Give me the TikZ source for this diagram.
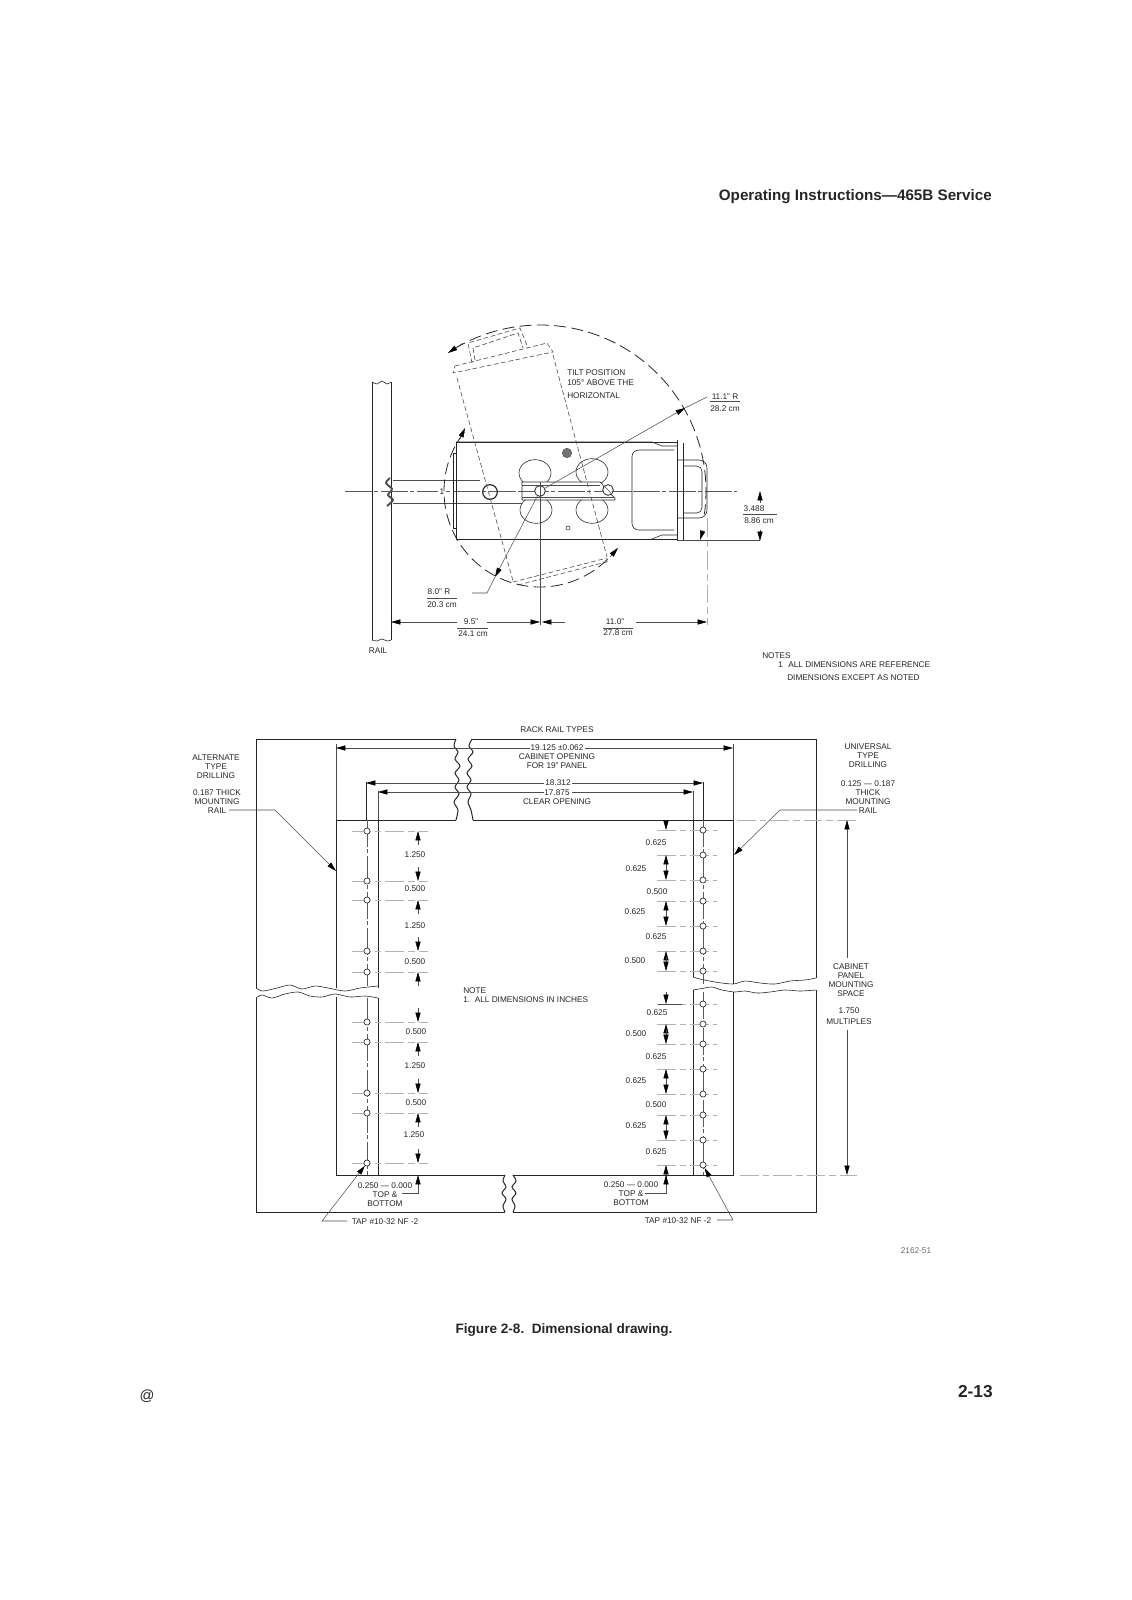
\documentclass[tikz,border=0pt]{standalone}
\usepackage{fontspec}
\setmainfont{Liberation Sans}
\usepackage{tikz}
\usetikzlibrary{arrows.meta}
\usetikzlibrary{shapes.geometric}
\definecolor{ink}{gray}{0.15}
\tikzset{
  outline/.style={line width=0.75pt, draw=ink},
  thinline/.style={line width=0.45pt, draw=ink},
  leader/.style={line width=0.4pt, draw=black!70},
  extline/.style={line width=0.4pt, draw=black!30, dash pattern=on 14pt off 3pt on 5pt off 3pt},
  centreline/.style={line width=0.4pt, draw=black!65, dash pattern=on 20pt off 2pt on 3pt off 2pt},
  tilted/.style={line width=0.5pt, draw=black!65, dash pattern=on 3.5pt off 2pt},
  swing/.style={line width=0.6pt, draw=ink, dash pattern=on 9pt off 4pt},
  dimarrow/.style={line width=0.4pt, draw=black!70, -{Stealth[length=7pt,width=3.8pt,inset=0pt,color=black]}},
  lbl/.style={font=\fontsize{6.2}{6.75}\selectfont, align=center, inner sep=0pt, text=ink},
  lblleft/.style={lbl, anchor=west, align=left},
  hole/.style={circle, draw=ink, line width=0.5pt, fill=white, inner sep=0pt, minimum size=4.6pt},
}
\begin{document}
\begin{tikzpicture}[x=0.75pt,y=-0.75pt]
\useasboundingbox (0,0) rectangle (1132,1600);
% page furniture
\node[anchor=east, inner sep=0pt, text=ink, font=\fontsize{11.4}{12}\selectfont\bfseries] (title) at (992,197) {Operating Instructions---465B Service};
\node[inner sep=0pt, text=ink, font=\fontsize{10.2}{11}\selectfont\bfseries] (caption) at (564,1330) {Figure 2-8.\ \ Dimensional drawing.};
\node[inner sep=0pt, text=ink, font=\fontsize{13}{14}\selectfont\bfseries, anchor=east] (pageno) at (993,1392) {2-13};
\node[inner sep=0pt, text=ink, font=\fontsize{11}{12}\selectfont] (atsign) at (147,1396) {@};
% upper view: rail
\draw[outline] (372,382) -- (372,640);
\draw[outline] (391,382) -- (391,640);
\draw[thinline] plot[smooth] coordinates {(372,382) (377,384) (382,381) (387,384) (391,382)};
\draw[thinline] plot[smooth] coordinates {(372,640) (377,641) (382,639) (387,641) (391,640)};
\draw[line width=1.4pt, draw=black!70] plot[smooth] coordinates {(390,478) (386,483) (392,489) (388,495) (393,500) (387,506)};
\node[lbl] (railname) at (378,651) {RAIL};
% arm and centre line
\draw[leader] (393,480) -- (480,480);
\draw[leader] (393,503) -- (522,503);
\draw[centreline] (345,491) -- (737,491);
\node[lbl, fill=white, inner sep=1pt] (armmark) at (442,492) {1};
\node[circle, draw=ink, line width=0.9pt, inner sep=0pt, minimum size=11pt] (knob) at (490,492) {};
% instrument body
\draw[outline] (456,442) -- (652,442);
\draw[outline] (456,442) -- (456,539) -- (652,539);
\draw[thinline] (456,442) -- (652,442) -- (662,446) -- (677,446);
\draw[thinline] (652,539) -- (662,535) -- (677,535);
\draw[thinline] (652,442) -- (677,442) (652,539) -- (677,539);
\draw[thinline] (677,440) -- (677,540);
\draw[thinline] (683,443) -- (683,540);
\draw[thinline] (456,453) -- (453,453) -- (453,528) -- (456,528);
\draw[thinline, rounded corners=5pt] (674,450) -- (632,450) -- (632,530) -- (674,530);
\draw[thinline, rounded corners=6pt] (677,460) -- (707,460) -- (707,518) -- (677,518);
\draw[thinline, rounded corners=4pt] (683,466) -- (702,466) -- (702,513) -- (683,513);
% cooling openings, bracket and screws
\foreach \cx/\cy [count=\i] in {535/473, 536/510, 592/472, 592/510} {
\node[ellipse, draw=ink, line width=0.45pt, minimum width=24pt, minimum height=20pt, inner sep=0pt, fill=white] (opening\i) at (\cx,\cy) {};
}
\draw[thinline, fill=white] (522,482) -- (600,482) .. controls (604,484) and (603,488) .. (606,490) -- (615,498) -- (615,500) -- (522,500) -- cycle;
\draw[leader] (522,485) -- (600,485);
\draw[leader] (522,497) -- (615,497);
\draw[centreline] (522,491) -- (632,491);
\node[circle, draw=ink, fill=white, line width=0.6pt, inner sep=0pt, minimum size=8pt] (pivot) at (540,491) {};
\node[circle, draw=ink, fill=white, line width=0.6pt, inner sep=0pt, minimum size=8pt] (lockscrew) at (608,490) {};
\draw[leader] (lockscrew.north west) -- (lockscrew.south east);
\node[circle, draw=black!60, fill=black!55, line width=0.6pt, inner sep=0pt, minimum size=7pt] (topscrew) at (567,453) {};
\node[circle, draw=ink, line width=0.4pt, inner sep=0pt, minimum size=3pt] (smallhole) at (568,528) {};
% tilted outline
\draw[tilted] (455,366) -- (547,343) -- (553,352) -- (453,373) -- cycle;
\draw[tilted] (472,363) -- (468,343) -- (520,328) -- (528,348);
\draw[tilted] (475,360) -- (473,348) -- (518,333) -- (523,348);
\draw[tilted] (457,378) -- (513,581);
\draw[tilted] (553,355) -- (607,557);
\draw[tilted] (513,582) -- (607,558);
\draw[tilted] (518,585) -- (610,561);
% swing arcs
\draw[swing] plot[smooth, domain=121:-8, samples=60] ({540+166*cos(\x)},{491-166*sin(\x)});
\draw[swing] plot[smooth, domain=142:323, samples=60] ({540+96*cos(\x)},{491-96*sin(\x)});
\coordinate (bigtail) at (463,343);
\coordinate (bigtip) at (448,353);
\draw[dimarrow] (bigtail) -- (bigtip);
\coordinate (bigtailb) at (703,530);
\coordinate (bigtipb) at (700,540);
\draw[dimarrow] (bigtailb) -- (bigtipb);
\coordinate (smalltail) at (460,439);
\coordinate (smalltip) at (465,428);
\draw[dimarrow] (smalltail) -- (smalltip);
\coordinate (smalltailb) at (610,557);
\coordinate (smalltipb) at (618,548);
\draw[dimarrow] (smalltailb) -- (smalltipb);
% radius leaders
\coordinate (bigr) at (685,408);
\coordinate (bigbend) at (707,397);
\draw[dimarrow] (pivot) -- (bigr);
\draw[leader] (bigr) -- (bigbend);
\coordinate (smallr) at (495,577);
\coordinate (smallbend) at (487,593);
\coordinate (smallend) at (472,593);
\draw[dimarrow] (pivot) -- (smallr);
\draw[leader] (smallr) -- (smallbend) -- (smallend);
\node[lbl] (bigin) at (725,397) {11.1" R};
\draw[leader] (710,401) -- (740,401);
\node[lbl] (bigcm) at (725,409) {28.2 cm};
\node[lbl] (smallin) at (439,592) {8.0" R};
\draw[leader] (427,598) -- (457,598);
\node[lbl] (smallcm) at (442,605) {20.3 cm};
\node[lblleft] (tiltone) at (567,373) {TILT POSITION};
\node[lblleft] (tilttwo) at (567,383) {105° ABOVE THE};
\node[lblleft] (tiltthree) at (567,396) {HORIZONTAL};
% upper view: dimensions
\draw[leader] (540,482) -- (540,625);
\draw[extline] (707,518) -- (707,625);
\draw[dimarrow] (457,622) -- (391,622);
\draw[dimarrow] (487,622) -- (540,622);
\draw[dimarrow] (565,622) -- (542,622);
\draw[dimarrow] (636,622) -- (707,622);
\node[lbl] (leftin) at (471,622) {9.5"};
\draw[leader] (457,628) -- (488,628);
\node[lbl] (leftcm) at (473,634) {24.1 cm};
\node[lbl] (rightin) at (615,622) {11.0"};
\draw[leader] (603,628) -- (633,628);
\node[lbl] (rightcm) at (618,633) {27.8 cm};
\draw[leader] (677,540) -- (760,540);
\draw[dimarrow] (760,503) -- (760,491);
\draw[dimarrow] (760,530) -- (760,541);
\node[lbl] (widein) at (754,509) {3.488};
\draw[leader] (743,514) -- (777,514);
\node[lbl] (widecm) at (759,521) {8.86 cm};
\node[lblleft] (notesa) at (762,656) {NOTES};
\node[lblleft] (notesb) at (778,665) {1};
\node[lblleft] (notesc) at (788,665) {ALL DIMENSIONS ARE REFERENCE};
\node[lblleft] (notesd) at (787,678) {DIMENSIONS EXCEPT AS NOTED};
% lower view: frame
\draw[outline] plot[smooth] coordinates {(456,739) (454,746) (458,752) (455,759) (460,766) (455,773) (459,780) (455,787) (459,794) (454,802) (458,810) (456,820)};
\draw[outline] plot[smooth] coordinates {(472,739) (469,746) (473,752) (468,759) (472,766) (467,773) (471,780) (467,787) (471,794) (468,802) (471,810) (473,820)};
\draw[outline] (456,739) -- (256,739) -- (256,988);
\draw[outline] (472,739) -- (816,739) -- (816,978);
\draw[outline] (336,820) -- (456,820);
\draw[outline] (473,820) -- (733,820);
\draw[outline] (336,820) -- (336,988);
\draw[outline] (378,820) -- (378,988);
\draw[outline] (693,820) -- (693,977);
\draw[outline] (733,820) -- (733,984);
\draw[thinline] plot[smooth] coordinates {(256,988) (263,991) (277,988) (290,985) (302,989) (315,986) (328,988) (345,991) (360,988) (378,986)};
\draw[thinline] plot[smooth] coordinates {(256,998) (262,995) (272,998) (285,994) (298,992) (310,996) (322,997) (335,994) (350,997) (365,996) (378,998)};
\draw[thinline] plot[smooth] coordinates {(693,977) (700,979) (715,982) (733,984) (745,981) (760,983) (775,984) (790,981) (805,980) (816,978)};
\draw[thinline] plot[smooth] coordinates {(693,990) (705,988) (712,987) (722,990) (735,992) (745,991) (757,993) (770,992) (785,990) (800,991) (816,990)};
\draw[outline] (256,998) -- (256,1212) -- (505,1212);
\draw[outline] (816,990) -- (816,1212) -- (513,1212);
\draw[outline] (336,997) -- (336,1175) -- (505,1175);
\draw[outline] (378,998) -- (378,1175);
\draw[outline] (693,990) -- (693,1175);
\draw[outline] (733,992) -- (733,1175) -- (513,1175);
\draw[outline] plot[smooth] coordinates {(505,1175) (503,1181) (506,1187) (502,1193) (506,1199) (503,1206) (505,1212)};
\draw[outline] plot[smooth] coordinates {(513,1175) (516,1181) (512,1187) (516,1193) (512,1199) (515,1206) (513,1212)};
% lower view: centre lines and upper dimensions
\draw[thinline] (366,782) -- (366,820);
\draw[centreline] (367,820) -- (367,986);
\draw[centreline] (367,998) -- (367,1175);
\draw[thinline] (703,782) -- (703,820);
\draw[centreline] (703,820) -- (703,984);
\draw[centreline] (703,992) -- (703,1175);
\draw[leader] (336,744) -- (336,820);
\draw[leader] (733,744) -- (733,820);
\draw[leader] (378,791) -- (378,820);
\draw[leader] (693,791) -- (693,820);
\node[lbl] (racktypes) at (557,730) {RACK RAIL TYPES};
\node[lbl] (cabinet) at (557,757) {19.125 ±0.062\\CABINET OPENING\\FOR 19" PANEL};
\draw[dimarrow] (530,748) -- (336,748);
\draw[dimarrow] (585,748) -- (733,748);
\node[lbl] (railspan) at (558,783) {18.312};
\draw[dimarrow] (544,783) -- (366,783);
\draw[dimarrow] (572,783) -- (703,783);
\node[lbl] (clear) at (557,797) {17.875\\CLEAR OPENING};
\draw[dimarrow] (544,792) -- (378,792);
\draw[dimarrow] (572,792) -- (693,792);
% holes and extension lines
\foreach \y in {831,881,900,951,972,1022,1042,1093,1113,1163} {
\draw[extline] (352,\y) -- (428,\y);
\node[hole] (holeleft\y) at (367,\y) {};
}
\foreach \y in {830,855,880,901,926,951,971,1004,1024,1044,1069,1094,1115,1140,1165} {
\draw[extline] (657,\y) -- (717,\y);
\node[hole] (holeright\y) at (703,\y) {};
}
\draw[leader] (658,1004) -- (682,1004);
% left dimension column
\foreach \from/\to in {845/831, 867/881, 914/900, 937/951, 986/972, 1008/1022, 1056/1042, 1079/1093, 1127/1113, 1149/1163} {
\draw[dimarrow] (418,\from) -- (418,\to);
}
\foreach \y/\x/\t [count=\i] in {855/415/1.250, 889/415/0.500, 926/415/1.250, 962/415/0.500, 1032/416/0.500, 1066/415/1.250, 1103/416/0.500, 1135/414/1.250} {
\node[lbl] (dimleft\i) at (\x,\y) {\t};
}
% right dimension column
\foreach \from/\to in {820/830, 869/855, 866/880, 915/901, 912/926, 965/951, 957/971, 992/1004, 1038/1024, 1030/1044, 1083/1069, 1080/1094, 1129/1115, 1126/1140, 1179/1165} {
\draw[dimarrow] (666,\from) -- (666,\to);
}
\foreach \y/\x/\t [count=\i] in {843/656/0.625, 869/636/0.625, 892/657/0.500, 912/635/0.625, 937/656/0.625, 961/635/0.500, 1013/657/0.625, 1034/636/0.500, 1057/656/0.625, 1081/636/0.625, 1105/656/0.500, 1126/636/0.625, 1152/656/0.625} {
\node[lbl] (dimright\i) at (\x,\y) {\t};
}
% rail leaders and callouts
\node[lbl] (alttype) at (216,767) {ALTERNATE\\TYPE\\DRILLING};
\node[lbl] (altrail) at (217,802) {0.187 THICK\\MOUNTING\\RAIL};
\coordinate (altstart) at (229,810);
\coordinate (altbend) at (275,810);
\coordinate (alttip) at (336,871);
\draw[dimarrow] (altstart) -- (altbend) -- (alttip);
\node[lbl] (unitype) at (868,756) {UNIVERSAL\\TYPE\\DRILLING};
\node[lbl] (unirail) at (868,797) {0.125 --- 0.187\\THICK\\MOUNTING\\RAIL};
\coordinate (unistart) at (857,810);
\coordinate (unibend) at (780,810);
\coordinate (unitip) at (734,855);
\draw[dimarrow] (unistart) -- (unibend) -- (unitip);
% cabinet panel dimension
\draw[extline] (737,820) -- (857,820);
\draw[extline] (740,1175) -- (857,1175);
\draw[dimarrow] (847,958) -- (847,820);
\draw[dimarrow] (847,1030) -- (847,1175);
\node[lbl] (cabinetpanel) at (851,980) {CABINET\\PANEL\\MOUNTING\\SPACE};
\node[lbl] (panelmult) at (849,1016) {1.750\\[2pt]MULTIPLES};
\node[lblleft] (inchnote) at (463,995) {NOTE\\1.\ \ ALL DIMENSIONS IN INCHES};
% bottom callouts
\node[lbl] (endleft) at (385,1195) {0.250 --- 0.000\\TOP \&\\BOTTOM};
\coordinate (endbendl) at (418,1193);
\coordinate (endstubl) at (402,1193);
\draw[dimarrow] (endstubl) -- (endbendl) -- (418,1175);
\node[lbl] (endright) at (631,1194) {0.250 --- 0.000\\TOP \&\\BOTTOM};
\coordinate (endbendr) at (666,1193);
\coordinate (endstubr) at (645,1193);
\draw[dimarrow] (endstubr) -- (endbendr) -- (666,1175);
\node[lbl] (tapleft) at (385,1222) {TAP \#10-32 NF -2};
\coordinate (tapstubl) at (347,1221);
\coordinate (tapbendl) at (322,1221);
\draw[dimarrow] (tapstubl) -- (tapbendl) -- (holeleft1163);
\node[lbl] (tapright) at (678,1221) {TAP \#10-32 NF -2};
\coordinate (tapstubr) at (717,1220);
\coordinate (tapbendr) at (733,1220);
\draw[dimarrow] (tapstubr) -- (tapbendr) -- (holeright1165);
\node[lbl, text=black!60] (drawingno) at (916,1251) {2162-51};
\end{tikzpicture}
\end{document}
